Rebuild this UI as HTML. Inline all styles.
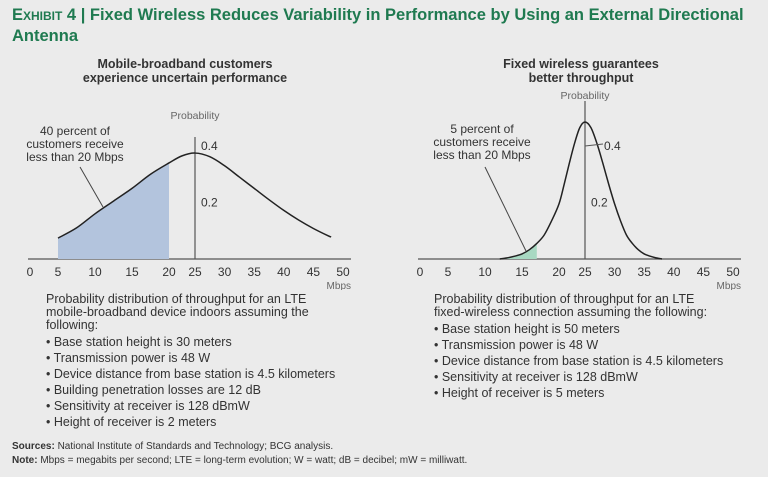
<!DOCTYPE html>
<html><head><meta charset="utf-8"><style>
body{margin:0;background:#ebebeb;}
#root{position:relative;width:768px;height:477px;background:#ebebeb;font-family:"Liberation Sans",sans-serif;color:#333;overflow:hidden}
.t{position:absolute;white-space:nowrap}
.title{color:#1f7a50;font-weight:bold;font-size:16.5px;left:12px}
.sub{font-weight:bold;font-size:12.5px;text-align:center;width:300px}
.body{font-size:12.5px;line-height:13px}
.bul{font-size:12.5px}
.foot{font-size:10px;left:12px}
svg text{font-family:"Liberation Sans",sans-serif}
</style></head><body>
<div id="root">
<div class="t title" style="top:6px"><span style="font-variant:small-caps">Exhibit 4</span> | Fixed Wireless Reduces Variability in Performance by Using an External Directional</div>
<div class="t title" style="top:27px">Antenna</div>
<div class="t sub" style="left:35px;top:57px">Mobile-broadband customers<br>experience uncertain performance</div>
<div class="t sub" style="left:431px;top:57px">Fixed wireless guarantees<br>better throughput</div>
<svg id="chart" width="768" height="290" style="position:absolute;left:0;top:0"></svg>
<div class="t body" style="left:46px;top:293px">Probability distribution of throughput for an LTE<br>mobile-broadband device indoors assuming the<br>following:</div>
<div class="t bul" style="left:46px;top:334px;line-height:16px">• Base station height is 30 meters<br>• Transmission power is 48 W<br>• Device distance from base station is 4.5 kilometers<br>• Building penetration losses are 12 dB<br>• Sensitivity at receiver is 128 dBmW<br>• Height of receiver is 2 meters</div>
<div class="t body" style="left:434px;top:293px">Probability distribution of throughput for an LTE<br>fixed-wireless connection assuming the following:</div>
<div class="t bul" style="left:434px;top:321px;line-height:16px">• Base station height is 50 meters<br>• Transmission power is 48 W<br>• Device distance from base station is 4.5 kilometers<br>• Sensitivity at receiver is 128 dBmW<br>• Height of receiver is 5 meters</div>
<div class="t foot" style="top:441px"><b>Sources:</b> National Institute of Standards and Technology; BCG analysis.</div>
<div class="t foot" style="top:455px"><b>Note:</b> Mbps = megabits per second; LTE = long-term evolution; W = watt; dB = decibel; mW = milliwatt.</div>
</div>
<script>
const xTicks=[0,5,10,15,20,25,30,35,40,45,50];
const leftX=[5,7.5,10,12.5,15,17.5,20,22.5,25,27.5,30,32.5,35,37.5,40,42.5,45,47.5,48];
const leftY=[0.074,0.11,0.16,0.205,0.25,0.30,0.34,0.365,0.375,0.362,0.33,0.29,0.25,0.21,0.172,0.138,0.108,0.082,0.078];
const leftShadeMax=20;
const rightX=[12,13,14,15,16,17,18,19,20,21,22,23,24,25,26,27,28,29,30,31,32,33,34,35,36,37,38];
const rightY=[0,0.004,0.01,0.018,0.033,0.055,0.085,0.135,0.195,0.265,0.34,0.41,0.465,0.485,0.465,0.41,0.34,0.265,0.195,0.135,0.085,0.055,0.033,0.018,0.01,0.004,0];
const rightShadeMax=17;
const yLabels=[0.2,0.4];

const svg=document.getElementById('chart');
const NS='http://www.w3.org/2000/svg';
function mk(tag,attrs,name){const e=document.createElementNS(NS,tag);for(const k in attrs)e.setAttribute(k,attrs[k]);


svg.appendChild(e);return e;}
function txt(x,y,s,name,extra){const e=mk('text',Object.assign({x:x,y:y,'font-size':12,fill:'#333'},extra||{}),name);e.textContent=s;return e;}
function makeX(off){const d=[0,5,20,25,50],r=[30,58,169,195,343].map(v=>v+off);
return v=>{for(let i=0;i<d.length-1;i++){if(v<=d[i+1]||i==d.length-2){return r[i]+(v-d[i])*(r[i+1]-r[i])/(d[i+1]-d[i]);}}};}
const y=v=>259-v*282.5;
function drawChart(off,X,Y,shadeMax,shadeColor,side){
  const x=makeX(off);
  mk('line',{x1:28+off,x2:351+off,y1:259,y2:259,stroke:'#555','stroke-width':1.2},side+'-x-axis');
  let pts=[];for(let i=0;i<X.length;i++){if(X[i]<=shadeMax)pts.push([x(X[i]),y(Y[i])]);}
  for(let i=0;i<X.length-1;i++){if(X[i]<shadeMax&&X[i+1]>shadeMax){const t=(shadeMax-X[i])/(X[i+1]-X[i]);pts.push([x(shadeMax),y(Y[i]+t*(Y[i+1]-Y[i]))]);}}
  const p0=pts[0][0],p1=pts[pts.length-1][0];
  mk('polygon',{points:[[p0,259],...pts,[p1,259]].map(p=>p.join(',')).join(' '),fill:shadeColor},side+'-shaded-area');
  const ax=x(25);
  mk('line',{x1:ax,x2:ax,y1:side=='left'?137:101,y2:259,stroke:'#555','stroke-width':1.2},side+'-y-axis');
  let d='';const P=X.map((v,i)=>[x(v),y(Y[i])]);
  d='M'+P[0].join(',');
  for(let i=0;i<P.length-1;i++){const p_=P[Math.max(0,i-1)],a=P[i],b=P[i+1],n=P[Math.min(P.length-1,i+2)];
    d+=` C${a[0]+(b[0]-p_[0])/6},${a[1]+(b[1]-p_[1])/6} ${b[0]-(n[0]-a[0])/6},${b[1]-(n[1]-a[1])/6} ${b[0]},${b[1]}`;}
  mk('path',{d:d,fill:'none',stroke:'#222','stroke-width':1.5},side+'-curve');
  xTicks.forEach(t=>txt(x(t),276,String(t),side+'-x-tick',{'text-anchor':'middle'}));
  txt(351+off,289,'Mbps',side+'-x-unit',{'text-anchor':'end','font-size':10,fill:'#666'});
  txt(ax,side=='left'?119:99,'Probability',side+'-y-title',{'text-anchor':'middle','font-size':10.5,fill:'#666'});
  return {x,ax};
}
const L=drawChart(0,leftX,leftY,leftShadeMax,'#b3c4dd','left');
txt(L.ax+6,y(yLabels[0])+4,String(yLabels[0]),'left-y-label');
txt(L.ax+6,y(yLabels[1])+4,String(yLabels[1]),'left-y-label');
const R=drawChart(390,rightX,rightY,rightShadeMax,'#a8d8c2','right');
txt(R.ax+6,y(yLabels[0])+4,String(yLabels[0]),'right-y-label');
mk('line',{x1:R.ax,y1:y(0.4),x2:R.ax+18,y2:y(0.4)-2,stroke:'#555','stroke-width':1},'right-0.4-leader');
txt(R.ax+19,y(0.4)+4,String(yLabels[1]),'right-y-label');
[['40 percent of',135],['customers receive',148],['less than 20 Mbps',161]].forEach(a=>txt(75,a[1],a[0],'left-annotation',{'text-anchor':'middle'}));
mk('line',{x1:80,y1:167,x2:103,y2:207,stroke:'#444','stroke-width':1},'left-annotation-leader');
[['5 percent of',133],['customers receive',146],['less than 20 Mbps',159]].forEach(a=>txt(482,a[1],a[0],'right-annotation',{'text-anchor':'middle'}));
mk('line',{x1:485,y1:167,x2:526,y2:251,stroke:'#444','stroke-width':1},'right-annotation-leader');
</script>
</body></html>
